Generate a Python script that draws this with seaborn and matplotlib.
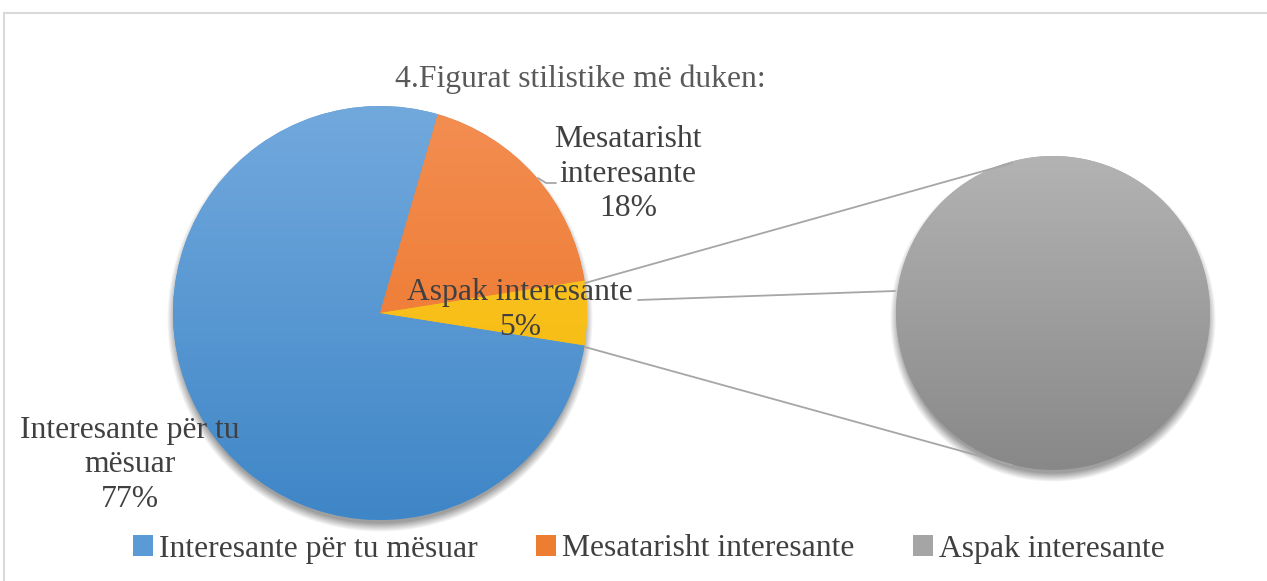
import numpy as np
import matplotlib
matplotlib.use('Agg')
import matplotlib.pyplot as plt
import seaborn as sns
from matplotlib.colors import LinearSegmentedColormap
from matplotlib.patches import Patch

# data
categories = ['Interesante për tu mësuar', 'Mesatarisht interesante', 'Aspak interesante']
shares = [77, 18, 5]
title = '4.Figurat stilistike më duken:'

sns.set_theme(style='white')
plt.rcParams['font.family'] = ['Liberation Serif', 'DejaVu Serif']

W, H = 1267, 581
TXT = '#404040'
FS = 22.8
LS = 1.27

fig = plt.figure(figsize=(W / 100, H / 100), dpi=100)
ax = fig.add_axes([0, 0, 1, 1])
ax.set_xlim(0, W)
ax.set_ylim(0, H)
ax.axis('off')


def Y(y):
    # picture rows -> data y (y up)
    return H - y


# colours: base + (top, bottom) for the gradient
base = ['#5B9BD5', '#ED7D31', '#A5A5A5']
other_col = '#FFC000'
grads = {
    '#5B9BD5': ('#72A9DD', '#3F86C7'),
    '#ED7D31': ('#F38E52', '#EB7020'),
    '#FFC000': ('#FFC935', '#F2B600'),
    '#A5A5A5': ('#B3B3B3', '#888888'),
}

main_c = (380, 313)
main_r = 207
sec_c = (1053, 313)
sec_r = 157

# soft drop shadows
yy, xx = np.mgrid[0:H, 0:W] + 0.5
alpha = np.zeros((H, W))
for (cx, cy), r in [(main_c, main_r), (sec_c, sec_r)]:
    d = np.sqrt((xx - cx) ** 2 + (yy - cy - 6) ** 2) - r
    alpha = np.maximum(alpha, 0.5 * np.clip(1 - (d + 3) / 9, 0, 1))
shadow = np.zeros((H, W, 4))
shadow[..., :3] = 0.25
shadow[..., 3] = alpha
ax.imshow(shadow, extent=(0, W, 0, H), origin='upper', zorder=1, aspect='auto')

# main pie: first two categories + the "other" slice, clockwise
main_vals = shares[:2] + [sum(shares[2:])]
main_cols = base[:2] + [other_col]
start = -sum(shares[2:]) * 3.6 / 2
wedges, _ = ax.pie(main_vals, colors=main_cols, startangle=start, counterclock=False,
                   center=(main_c[0], Y(main_c[1])), radius=main_r, frame=True,
                   wedgeprops=dict(linewidth=0, zorder=2))
# secondary pie: the split-off category
wedges2, _ = ax.pie(shares[2:], colors=base[2:], startangle=90,
                    center=(sec_c[0], Y(sec_c[1])), radius=sec_r, frame=True,
                    wedgeprops=dict(linewidth=0, zorder=2))

grad = np.linspace(0, 1, 256).reshape(-1, 1)
for wset, (cx, cy), r, cols in [(wedges, main_c, main_r, main_cols),
                                (wedges2, sec_c, sec_r, base[2:])]:
    for w, c in zip(wset, cols):
        cmap = LinearSegmentedColormap.from_list('g', list(grads[c]))
        im = ax.imshow(grad, extent=(cx - r, cx + r, Y(cy + r), Y(cy - r)),
                       origin='upper', cmap=cmap, aspect='auto', zorder=3)
        im.set_clip_path(w)

ax.set_xlim(0, W)
ax.set_ylim(0, H)
ax.set_aspect('auto')
ax.axis('off')

# connector lines between the pies
lc = '#A6A6A6'
ax.plot([585, 1012], [Y(283), Y(163)], color=lc, lw=1.3, zorder=4)
ax.plot([585, 1012], [Y(347), Y(465)], color=lc, lw=1.3, zorder=4)
# leader lines
ax.plot([538, 546, 556], [Y(178), Y(183), Y(183)], color=lc, lw=1.3, zorder=4)
ax.plot([638, 895], [Y(300), Y(291)], color=lc, lw=1.3, zorder=4)

# title and data labels
ax.text(580, Y(79), title, ha='center', va='center', fontsize=FS, color='#595959', zorder=5)
ax.text(628, Y(174), 'Mesatarisht\ninteresante\n%d%%' % shares[1], ha='center', va='center',
        fontsize=FS, color=TXT, linespacing=LS, zorder=5)
ax.text(520, Y(310), '%s\n%d%%' % (categories[2], shares[2]), ha='center', va='center',
        fontsize=FS, color=TXT, linespacing=LS, zorder=5)
ax.text(130, Y(465), 'Interesante për tu\nmësuar\n%d%%' % shares[0], ha='center', va='center',
        fontsize=FS, color=TXT, linespacing=LS, zorder=5)

# chart frame (only top and left edges visible)
ax.plot([4, W], [Y(13), Y(13)], color='#D9D9D9', lw=1.5, zorder=6)
ax.plot([4, 4], [Y(13), 0], color='#D9D9D9', lw=1.5, zorder=6)

handles = [Patch(facecolor=c, edgecolor='none') for c in base]
fig.legend(handles, categories, loc='center', bbox_to_anchor=(649 / W, 1 - 549 / H), ncol=3,
           frameon=False, fontsize=FS, labelcolor=TXT, handlelength=0.62, handleheight=0.62,
           handletextpad=0.2, columnspacing=1.85, borderpad=0, borderaxespad=0)

fig.savefig('out.png', dpi=100, facecolor='white')
